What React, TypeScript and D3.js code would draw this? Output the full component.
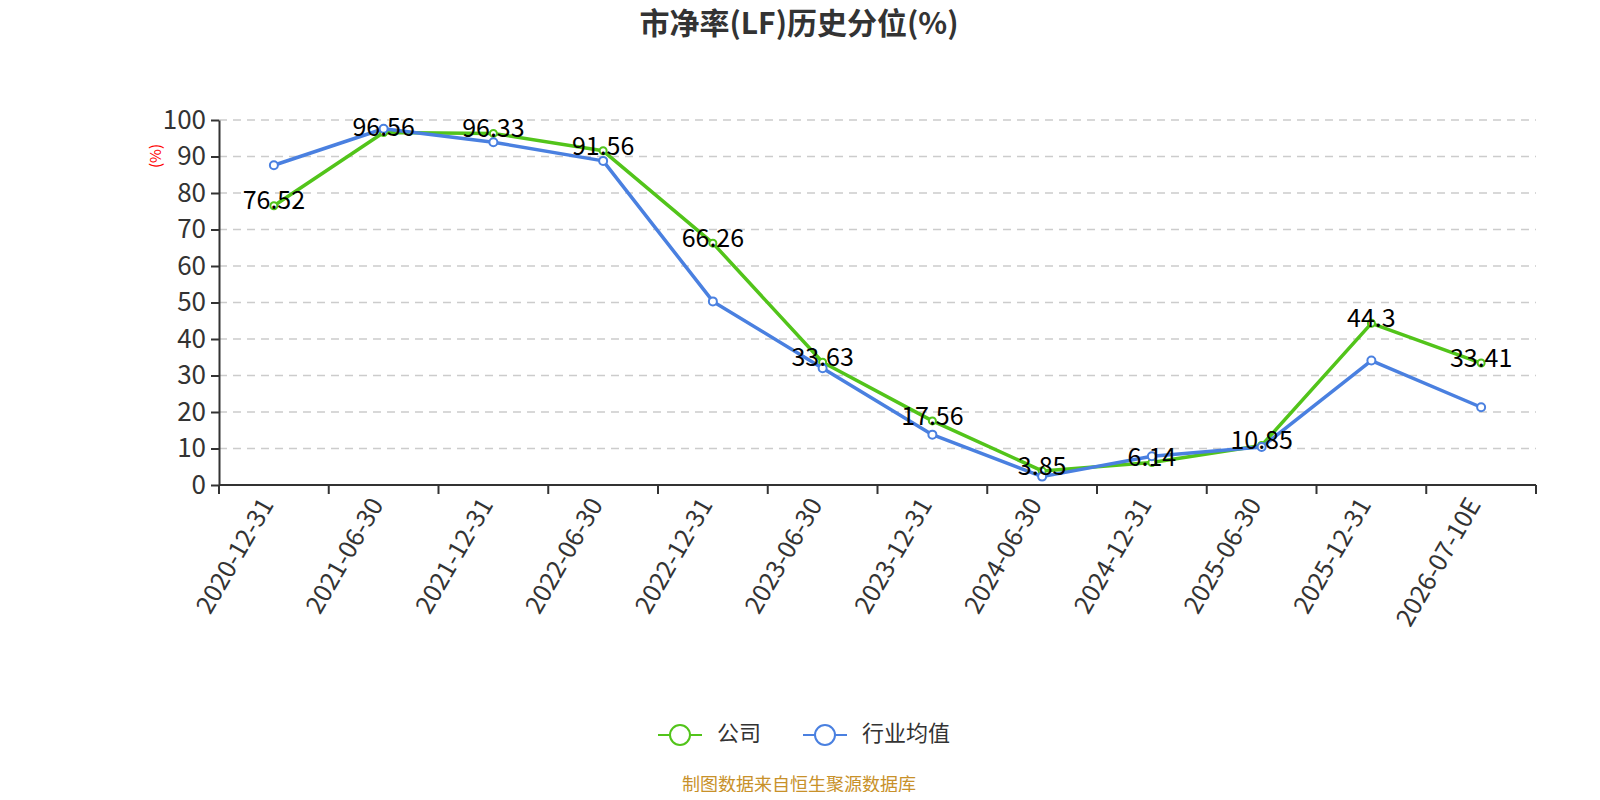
import React, { useEffect, useRef } from 'react';
import * as d3 from 'd3';

const categories = [
  '2020-12-31', '2021-06-30', '2021-12-31', '2022-06-30', '2022-12-31', '2023-06-30',
  '2023-12-31', '2024-06-30', '2024-12-31', '2025-06-30', '2025-12-31', '2026-07-10E',
];
const companyValues = [76.52, 96.56, 96.33, 91.56, 66.26, 33.63, 17.56, 3.85, 6.14, 10.85, 44.3, 33.41];
const industryValues = [87.6, 97.6, 93.9, 88.8, 50.3, 32.0, 13.8, 2.3, 7.9, 10.4, 34.1, 21.3];
const yTicks = [0, 10, 20, 30, 40, 50, 60, 70, 80, 90, 100];

const GREEN = '#52c41a';
const BLUE = '#4a80e0';
const FONT = '"Noto Sans CJK SC", "Noto Sans", sans-serif';

const App: React.FC = () => {
  const svgRef = useRef<SVGSVGElement | null>(null);

  useEffect(() => {
    if (!svgRef.current) return;
    const svg = d3.select(svgRef.current);
    svg.selectAll('*').remove();

    const margin = { top: 120, right: 1536, left: 219 };
    const plotBottom = 485;

    const x = d3.scaleBand<string>()
      .domain(categories)
      .range([margin.left, margin.right]);
    const y = d3.scaleLinear()
      .domain([0, 100])
      .range([plotBottom, margin.top]);

    // title
    svg.append('text')
      .attr('x', 799).attr('y', 34)
      .attr('text-anchor', 'middle')
      .attr('font-size', 30).attr('font-weight', 'bold')
      .attr('fill', '#333').attr('font-family', FONT)
      .text('市净率(LF)历史分位(%)');

    // grid
    svg.append('g')
      .selectAll('line')
      .data(yTicks.filter(d => d > 0))
      .join('line')
      .attr('x1', margin.left).attr('x2', margin.right)
      .attr('y1', d => y(d)).attr('y2', d => y(d))
      .attr('stroke', '#ccc').attr('stroke-width', 1.5)
      .attr('stroke-dasharray', '8,6');

    // y axis
    const yAxis = svg.append('g')
      .attr('transform', `translate(${margin.left},0)`)
      .call(d3.axisLeft(y).tickValues(yTicks).tickSize(8).tickPadding(5).tickSizeOuter(0));
    yAxis.select('.domain').attr('stroke', '#333').attr('stroke-width', 2);
    yAxis.selectAll('.tick line').attr('stroke', '#333').attr('stroke-width', 2);
    yAxis.selectAll('.tick text')
      .attr('font-size', 26).attr('fill', '#333').attr('font-family', FONT);

    svg.append('text')
      .attr('transform', `translate(161,156) rotate(-90)`)
      .attr('text-anchor', 'middle')
      .attr('font-size', 15).attr('fill', 'red').attr('font-family', FONT)
      .text('(%)');

    // x axis
    const xAxisG = svg.append('g').attr('transform', `translate(0,${plotBottom})`);
    xAxisG.append('line')
      .attr('x1', margin.left).attr('x2', margin.right)
      .attr('stroke', '#333').attr('stroke-width', 2);
    const bounds = categories.map(c => x(c) as number).concat([margin.right]);
    xAxisG.selectAll('line.tk')
      .data(bounds)
      .join('line')
      .attr('class', 'tk')
      .attr('x1', d => d).attr('x2', d => d)
      .attr('y1', 0).attr('y2', 9)
      .attr('stroke', '#333').attr('stroke-width', 2);
    xAxisG.selectAll('text')
      .data(categories)
      .join('text')
      .attr('transform', d => `translate(${(x(d) as number) + x.bandwidth() / 2 - 7},${15}) rotate(-60)`)
      .attr('text-anchor', 'end')
      .attr('dy', '0.35em')
      .attr('font-size', 25).attr('fill', '#333').attr('font-family', FONT)
      .text(d => d);

    const cx = (i: number) => (x(categories[i]) as number) + x.bandwidth() / 2;
    const line = d3.line<number>().x((_, i) => cx(i)).y(d => y(d));

    const drawSeries = (vals: number[], color: string, r: number) => {
      svg.append('path')
        .datum(vals)
        .attr('d', line)
        .attr('fill', 'none')
        .attr('stroke', color).attr('stroke-width', 3.5)
        .attr('stroke-linejoin', 'round');
      svg.append('g')
        .selectAll('circle')
        .data(vals)
        .join('circle')
        .attr('cx', (_, i) => cx(i)).attr('cy', d => y(d))
        .attr('r', r)
        .attr('fill', '#fff').attr('stroke', color).attr('stroke-width', 2);
    };

    drawSeries(companyValues, GREEN, 3.5);
    drawSeries(industryValues, BLUE, 4);

    // company labels
    svg.append('g')
      .selectAll('text')
      .data(companyValues)
      .join('text')
      .attr('x', (_, i) => cx(i)).attr('y', d => y(d) - 3)
      .attr('text-anchor', 'middle').attr('dominant-baseline', 'middle')
      .attr('font-size', 25).attr('fill', '#000').attr('font-family', FONT)
      .text(d => String(d));

    // legend
    const legend = [
      { name: '公司', color: GREEN, x: 658 },
      { name: '行业均值', color: BLUE, x: 803 },
    ];
    const lg = svg.append('g');
    legend.forEach(l => {
      lg.append('line')
        .attr('x1', l.x).attr('x2', l.x + 44)
        .attr('y1', 735).attr('y2', 735)
        .attr('stroke', l.color).attr('stroke-width', 2);
      lg.append('circle')
        .attr('cx', l.x + 22).attr('cy', 735).attr('r', 10)
        .attr('fill', '#fff').attr('stroke', l.color).attr('stroke-width', 2);
      lg.append('text')
        .attr('x', l.x + 59).attr('y', 735)
        .attr('dominant-baseline', 'middle')
        .attr('font-size', 22).attr('fill', '#333').attr('font-family', FONT)
        .text(l.name);
    });

    svg.append('text')
      .attr('x', 799).attr('y', 791)
      .attr('text-anchor', 'middle')
      .attr('font-size', 18).attr('fill', '#c8912a').attr('font-family', FONT)
      .text('制图数据来自恒生聚源数据库');
  }, []);

  return (
    <svg ref={svgRef} width={1600} height={800} style={{ display: 'block', margin: '-8px' }} />
  );
};

export default App;
